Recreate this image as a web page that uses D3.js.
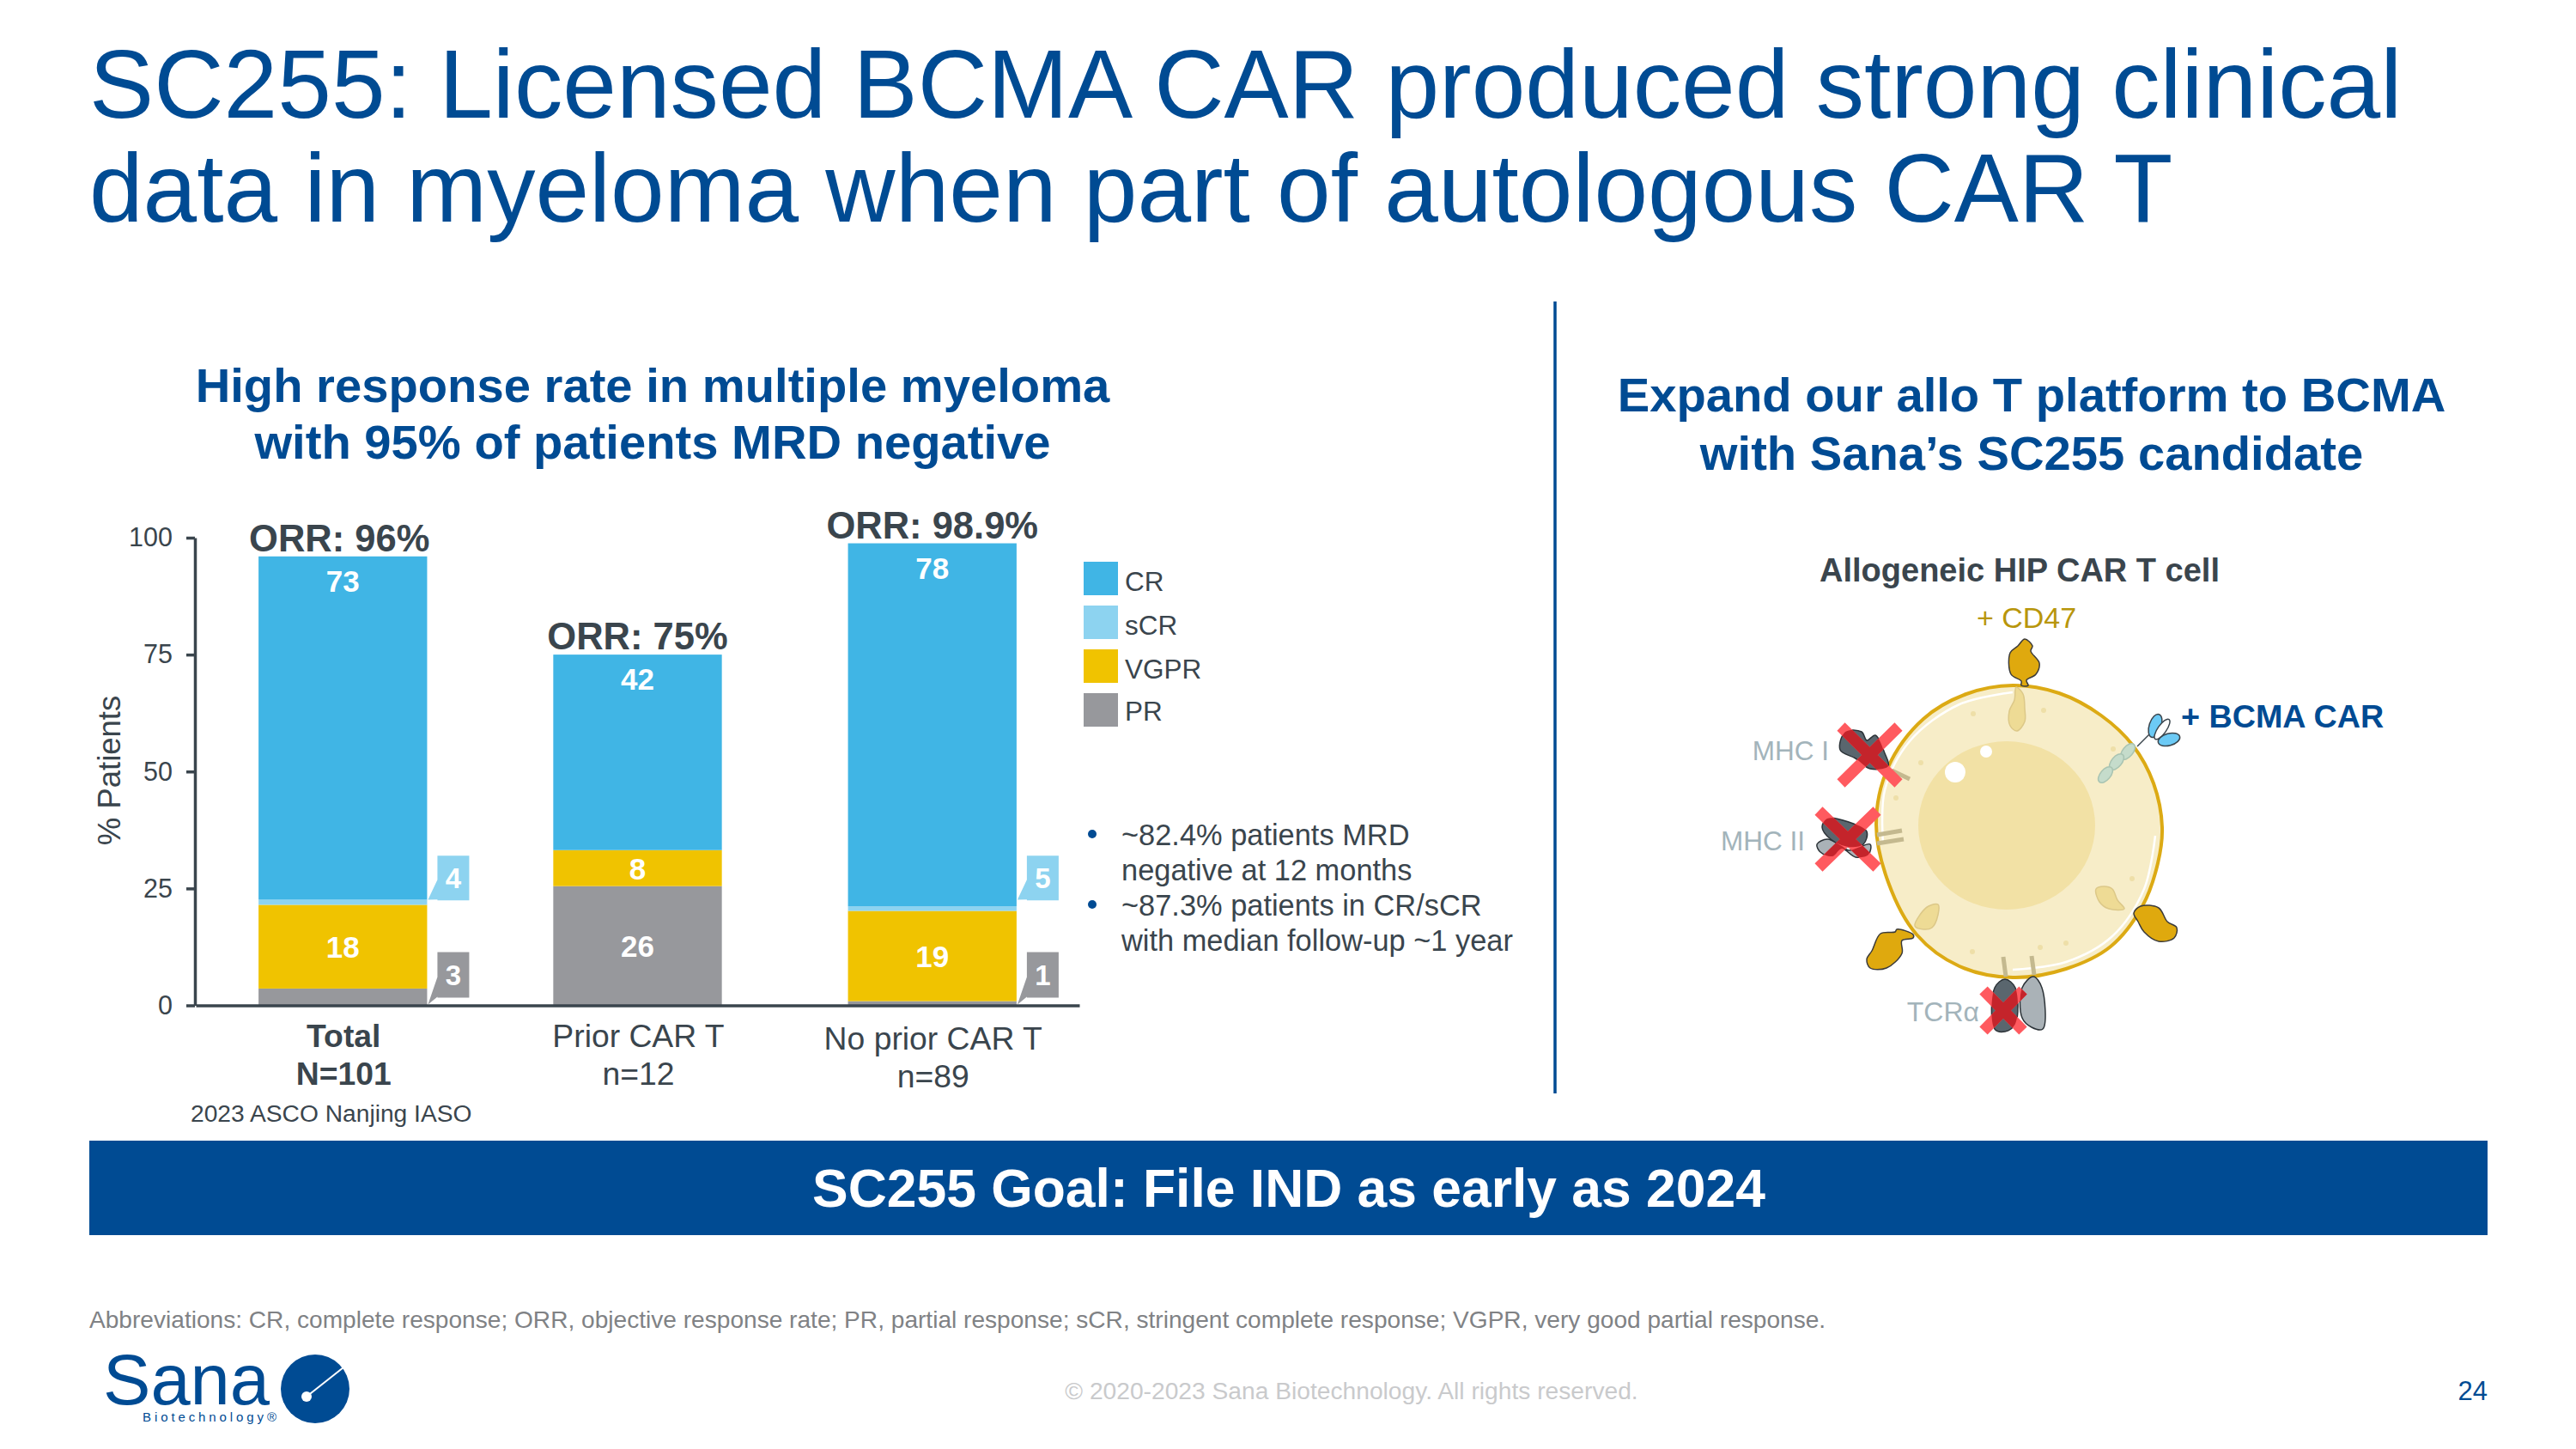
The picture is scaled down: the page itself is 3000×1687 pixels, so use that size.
<!DOCTYPE html>
<html>
<head>
<meta charset="utf-8">
<script src="https://cdn.jsdelivr.net/npm/d3@7"></script>
<style>
  body { margin: 0; background: #fff; }
  text { font-family: "Liberation Sans", Arial, sans-serif; }
</style>
</head>
<body>
<div id="chart"></div>
<script>
(function () {

    const groups = ["Total", "Prior CAR T", "No prior CAR T"]
    const groupNotes = ["N=101", "n=12", "n=89"]
    const orrLabels = ["ORR: 96%", "ORR: 75%", "ORR: 98.9%"]
    const yTicks = [0, 25, 50, 75, 100]

    const series = ["PR", "VGPR", "sCR", "CR"]
    const legendOrder = ["CR", "sCR", "VGPR", "PR"]
    const prValues = [3.6, 25.5, 0.9]
    const vgprValues = [17.9, 7.7, 19.3]
    const scrValues = [1.1, 0, 1.0]
    const crValues = [73.4, 41.8, 77.6]

    const prLabels = ["3", "26", "1"]
    const vgprLabels = ["18", "8", "19"]
    const scrLabels = ["4", "", "5"]
    const crLabels = ["73", "42", "78"]

    const bullets = [
        ["~82.4% patients MRD", "negative at 12 months"],
        ["~87.3% patients in CR/sCR", "with median follow-up ~1 year"]
    ]

    const BLUE = "#004b93"
    const DARK = "#3a454d"
    const GREY_LABEL = "#a3b4bb"
    const colors = { CR: "#40b5e5", sCR: "#8dd3f0", VGPR: "#f0c300", PR: "#97989c" }

    const svg = d3.select("#chart").append("svg")
        .attr("width", 3000)
        .attr("height", 1687)
        .attr("viewBox", "0 0 3000 1687")

    const addText = (str, x, y, size, fill, opts = {}) => svg.append("text")
        .attr("x", x)
        .attr("y", y)
        .attr("font-size", size)
        .attr("fill", fill)
        .attr("font-weight", opts.bold ? 700 : 400)
        .attr("text-anchor", opts.anchor || "start")
        .text(str)

    // headings
    addText("SC255: Licensed BCMA CAR produced strong clinical", 104, 137, 112.7, BLUE)
    addText("data in myeloma when part of autologous CAR T", 104, 258, 112.6, BLUE)
    addText("High response rate in multiple myeloma", 760, 468, 56.2, BLUE, { bold: true, anchor: "middle" })
    addText("with 95% of patients MRD negative", 760, 534, 56.2, BLUE, { bold: true, anchor: "middle" })
    addText("Expand our allo T platform to BCMA", 2366, 479, 56.2, BLUE, { bold: true, anchor: "middle" })
    addText("with Sana\u2019s SC255 candidate", 2366, 547, 56.2, BLUE, { bold: true, anchor: "middle" })

    svg.append("line")
        .attr("x1", 1811).attr("x2", 1811)
        .attr("y1", 351).attr("y2", 1273)
        .attr("stroke", BLUE).attr("stroke-width", 3.5)

    // stacked bars
    const x = d3.scaleBand()
        .domain(groups)
        .range([228, 1257])
        .paddingInner(0.428)
        .paddingOuter(0.213)

    const y = d3.scaleLinear().domain([0, 100]).range([1170.5, 626])

    const rows = groups.map((g, i) => ({
        group: g, PR: prValues[i], VGPR: vgprValues[i], sCR: scrValues[i], CR: crValues[i]
    }))
    const stacked = d3.stack().keys(series)(rows)

    svg.append("g")
        .selectAll("g")
        .data(stacked)
        .enter()
        .append("g")
        .attr("fill", d => colors[d.key])
        .selectAll("rect")
        .data(d => d)
        .enter()
        .append("rect")
        .attr("x", d => x(d.data.group))
        .attr("width", x.bandwidth())
        .attr("y", d => y(d[1]))
        .attr("height", d => y(d[0]) - y(d[1]))

    const yAxis = svg.append("g")
        .attr("transform", "translate(227,0)")
        .call(d3.axisLeft(y).tickValues(yTicks).tickSize(10).tickSizeOuter(0).tickPadding(16))
    yAxis.selectAll("path, line").attr("stroke", DARK).attr("stroke-width", 3.5)
    yAxis.selectAll("text")
        .attr("font-size", 30.5)
        .attr("font-family", "Liberation Sans")
        .attr("fill", DARK)

    const xAxis = svg.append("g")
        .attr("transform", "translate(0,1170.5)")
        .call(d3.axisBottom(x).tickSize(0).tickFormat(""))
    xAxis.select("path").attr("stroke", DARK).attr("stroke-width", 3.5)

    svg.append("text")
        .attr("transform", "translate(140,897) rotate(-90)")
        .attr("text-anchor", "middle")
        .attr("font-size", 36.5)
        .attr("fill", DARK)
        .text("% Patients")

    // labels above and below bars
    groups.forEach((g, i) => {
        const cx = x(g) + x.bandwidth() / 2
        const top = prValues[i] + vgprValues[i] + scrValues[i] + crValues[i]
        addText(orrLabels[i], cx - (i === 0 ? 4 : 0), y(top) - 6, 43.5, DARK, { bold: true, anchor: "middle" })
        const dy = i === 2 ? 3 : 0
        addText(g, cx + 1, 1219 + dy, 37.3, DARK, { bold: i === 0, anchor: "middle" })
        addText(groupNotes[i], cx + 1, 1263 + dy, 37.3, DARK, { bold: i === 0, anchor: "middle" })

        addText(crLabels[i], cx, y(top) + 41, 35, "#fff", { bold: true, anchor: "middle" })
        addText(vgprLabels[i], cx, y(prValues[i] + vgprValues[i] / 2) + 13, 35, "#fff", { bold: true, anchor: "middle" })

        // callouts beside thin segments, PR in the middle bar fits inside
        if (prValues[i] < 10) {
            callout(x(g) + x.bandwidth(), prLabels[i], colors.PR, y(0) - 62, y(0) - 9, y(0) - 1)
        } else {
            addText(prLabels[i], cx, y(prValues[i] / 2) + 13, 35, "#fff", { bold: true, anchor: "middle" })
        }
        if (scrValues[i] > 0) {
            callout(x(g) + x.bandwidth(), scrLabels[i], colors.sCR, y(32), y(32) + 52, y(22.6))
        }
    })

    function callout(barEnd, label, fill, top, bottom, tipY) {
        const left = barEnd + 12
        const right = left + 37
        const tip = barEnd + 1
        svg.append("path")
            .attr("d", d3.line()([
                [left, top], [right, top], [right, bottom], [left, bottom],
                [left, bottom - 1], [tip, tipY], [left, bottom - 24]
            ]) + "Z")
            .attr("fill", fill)
        addText(label, (left + right) / 2, (top + bottom) / 2 + 12, 33, "#fff", { bold: true, anchor: "middle" })
    }

    addText("2023 ASCO Nanjing IASO", 222, 1306, 28.2, DARK)

    // legend
    legendOrder.forEach((name, i) => {
        svg.append("rect")
            .attr("x", 1262).attr("width", 40)
            .attr("y", 654 + i * 51).attr("height", 39)
            .attr("fill", colors[name])
        addText(name, 1310, 688 + i * (i === 3 ? 50.3 : 51), 31.5, DARK)
    })

    // bullet text
    bullets.forEach((lines, i) => {
        const base = 984 + i * 82
        svg.append("circle").attr("cx", 1272).attr("cy", base - 13).attr("r", 5).attr("fill", BLUE)
        lines.forEach((line, j) => addText(line, 1306, base + j * 41, 34.4, DARK))
    })

    // goal banner
    svg.append("rect")
        .attr("x", 104).attr("y", 1328)
        .attr("width", 2793).attr("height", 110)
        .attr("fill", BLUE)
    addText("SC255 Goal: File IND as early as 2024", 1501, 1405, 62.4, "#fff", { bold: true, anchor: "middle" })

    // footer
    addText("Abbreviations: CR, complete response; ORR, objective response rate; PR, partial response; sCR, stringent complete response; VGPR, very good partial response.",
        104, 1546, 28.1, "#808285")
    addText("\u00a9 2020-2023 Sana Biotechnology. All rights reserved.", 1574, 1629, 28.2, "#c9cacc", { anchor: "middle" })
    addText("24", 2897, 1630, 31, BLUE, { anchor: "end" })

    // logo
    addText("Sana", 120, 1635, 84, BLUE).attr("font-family", "Lato").attr("font-weight", 300)
        .attr("textLength", 194).attr("lengthAdjust", "spacingAndGlyphs")
    addText("Biotechnology\u00ae", 166, 1655, 15, BLUE).attr("textLength", 156)
    svg.append("circle").attr("cx", 367).attr("cy", 1617).attr("r", 40).attr("fill", BLUE)
    svg.append("line").attr("x1", 357).attr("y1", 1626).attr("x2", 400).attr("y2", 1592)
        .attr("stroke", "#fff").attr("stroke-width", 2)
    svg.append("circle").attr("cx", 357).attr("cy", 1626).attr("r", 6).attr("fill", "#fff")

    // cell illustration
    const blob = pts => d3.line().curve(d3.curveCatmullRomClosed.alpha(0.5))(pts)
    const smooth = pts => d3.line().curve(d3.curveCatmullRom.alpha(0.5))(pts)
    const GOLD = "#dfa90e"
    const INNER = "#eedb95"

    const cell = svg.append("g")
    cell.append("path")
        .attr("d", blob([[2344, 798], [2398, 807], [2447, 833], [2484, 868], [2508, 912], [2518, 963], [2513, 1005], [2495, 1055], [2458, 1102], [2406, 1128],
            [2344, 1138], [2282, 1125], [2232, 1088], [2199, 1027], [2185, 960], [2199, 893], [2240, 837], [2290, 808]]))
        .attr("fill", "#f7edc8").attr("stroke", "#dcaa14").attr("stroke-width", 4)
    cell.append("ellipse").attr("cx", 2337).attr("cy", 961).attr("rx", 103).attr("ry", 98).attr("fill", "#f2e1a5")

    // rim highlights and small specks
    const rims = [
        [[2193, 983], [2195, 920], [2224, 863], [2282, 820], [2344, 806]],
        [[2510, 973], [2497, 1035], [2460, 1090], [2406, 1120], [2344, 1129]]
    ]
    rims.forEach(r => cell.append("path").attr("d", smooth(r)).attr("fill", "none").attr("stroke", "#fff").attr("stroke-width", 2.5))
    const specks = [[2298, 831], [2380, 827], [2208, 929], [2461, 872], [2483, 1023], [2406, 1098], [2297, 1108], [2376, 1103], [2237, 888]]
    specks.forEach(s => cell.append("circle").attr("cx", s[0]).attr("cy", s[1]).attr("r", 3).attr("fill", "#eedfa8"))
    cell.append("circle").attr("cx", 2277).attr("cy", 899).attr("r", 12).attr("fill", "#fff")
    cell.append("circle").attr("cx", 2313).attr("cy", 875).attr("r", 7).attr("fill", "#fff")

    const cd47 = [
        [[2358, 744], [2367, 752], [2365, 758], [2375, 772], [2371, 785], [2360, 792], [2362, 798], [2354, 798], [2354, 793], [2342, 785], [2341, 760], [2350, 752]],
        [[2485, 1063], [2493, 1055], [2514, 1057], [2524, 1073], [2535, 1080], [2532, 1092], [2514, 1096], [2497, 1085], [2490, 1073]],
        [[2228, 1088], [2209, 1082], [2207, 1085], [2190, 1087], [2180, 1107], [2174, 1117], [2178, 1127], [2197, 1127], [2215, 1110], [2215, 1095], [2228, 1092]]
    ]
    const cd47Inner = [
        [[2348, 800], [2356, 808], [2358, 825], [2358, 840], [2349, 851], [2341, 845], [2340, 828], [2346, 815]],
        [[2441, 1035], [2450, 1032], [2460, 1035], [2466, 1048], [2474, 1058], [2456, 1058], [2445, 1050]],
        [[2257, 1053], [2246, 1055], [2236, 1065], [2230, 1078], [2240, 1082], [2250, 1080], [2257, 1065]]
    ]
    cd47.forEach(p => cell.append("path").attr("d", blob(p)).attr("fill", GOLD).attr("stroke", "#3b3b3b").attr("stroke-width", 1.5))
    cd47Inner.forEach(p => cell.append("path").attr("d", blob(p)).attr("fill", INNER).attr("stroke", "#dcc888").attr("stroke-width", 1.5))

    // BCMA CAR
    const beads = [[2478, 875], [2465, 887], [2452, 902]]
    beads.forEach(b => cell.append("ellipse")
        .attr("rx", 11).attr("ry", 6)
        .attr("transform", `translate(${b[0]},${b[1]}) rotate(-50)`)
        .attr("fill", "#c5dccb").attr("stroke", "#a9c4b2").attr("stroke-width", 1.5))
    cell.append("line").attr("x1", 2489).attr("y1", 869).attr("x2", 2503).attr("y2", 855).attr("stroke", "#3a454d").attr("stroke-width", 1.5)
    cell.append("ellipse").attr("rx", 7).attr("ry", 14)
        .attr("transform", "translate(2510,845) rotate(18)")
        .attr("fill", "#6ccaf5").attr("stroke", "#3a454d").attr("stroke-width", 1.5)
    cell.append("ellipse").attr("rx", 5).attr("ry", 14)
        .attr("transform", "translate(2518,849) rotate(35)")
        .attr("fill", "#fff").attr("stroke", "#3a454d").attr("stroke-width", 1.5)
    cell.append("ellipse").attr("rx", 13).attr("ry", 7)
        .attr("transform", "translate(2526,861) rotate(-15)")
        .attr("fill", "#6ccaf5").attr("stroke", "#3a454d").attr("stroke-width", 1.5)

    // knocked out proteins, each with the red cross over it
    const stems = [
        [[2203, 897], [2224, 907]], [[2186, 972], [2215, 967]], [[2186, 982], [2217, 977]],
        [[2333, 1114], [2336, 1137]], [[2366, 1113], [2369, 1135]]
    ]
    stems.forEach(s => cell.append("line")
        .attr("x1", s[0][0]).attr("y1", s[0][1]).attr("x2", s[1][0]).attr("y2", s[1][1])
        .attr("stroke", "#c4b98f").attr("stroke-width", 5))

    const grey = "#aab2b7"
    const slate = "#5a666e"
    const proteins = [
        { pts: [[2116, 983], [2128, 977], [2145, 985], [2153, 990], [2178, 983], [2176, 995], [2161, 998], [2145, 988], [2134, 997], [2120, 992]], fill: grey },
        { pts: [[2122, 963], [2128, 953], [2153, 957], [2174, 968], [2170, 983], [2153, 986], [2132, 977]], fill: slate },
        { pts: [[2143, 873], [2149, 852], [2168, 852], [2174, 862], [2184, 856], [2195, 877], [2199, 892], [2178, 895], [2161, 883]], fill: slate },
        { pts: [[2323, 1150], [2335, 1140], [2347, 1150], [2347, 1192], [2335, 1201], [2323, 1198]], fill: slate },
        { pts: [[2355, 1150], [2368, 1137], [2378, 1150], [2379, 1198], [2366, 1196], [2355, 1185]], fill: grey }
    ]
    proteins.forEach(p => cell.append("path").attr("d", blob(p.pts)).attr("fill", p.fill).attr("stroke", "#2c3338").attr("stroke-width", 1.5))

    const crosses = [[2140, 841, 2215, 917], [2114, 939, 2190, 1015], [2306, 1148, 2360, 1205]]
    const crossPath = c => `M${c[0] + 4},${c[1] + 5}L${c[2] - 4},${c[3] - 5}M${c[2] - 4},${c[1] + 5}L${c[0] + 4},${c[3] - 5}`
    crosses.forEach(c => {
        cell.append("path").attr("d", crossPath(c)).attr("stroke", "#ff5a5f").attr("stroke-width", 13).attr("fill", "none")
    })
    // darker red where the crosses run over a protein
    const mask = svg.append("defs").append("mask").attr("id", "cross-mask").attr("maskUnits", "userSpaceOnUse")
        .attr("x", 0).attr("y", 0).attr("width", 3000).attr("height", 1687)
    crosses.forEach(c => mask.append("path").attr("d", crossPath(c)).attr("stroke", "#fff").attr("stroke-width", 13).attr("fill", "none"))
    const over = cell.append("g").attr("mask", "url(#cross-mask)")
    proteins.forEach(p => over.append("path").attr("d", blob(p.pts)).attr("fill", "#c4242b"))

    addText("Allogeneic HIP CAR T cell", 2352, 677, 38, DARK, { bold: true, anchor: "middle" })
    addText("+ CD47", 2360, 731, 34, "#b8960c", { anchor: "middle" })
    addText("+ BCMA CAR", 2540, 847, 37.7, BLUE, { bold: true })
    addText("MHC I", 2130, 885, 31.5, GREY_LABEL, { anchor: "end" })
    addText("MHC II", 2102, 990, 31.5, GREY_LABEL, { anchor: "end" })
    addText("TCR\u03b1", 2305, 1189, 32, GREY_LABEL, { anchor: "end" })
})()
</script>
</body>
</html>
